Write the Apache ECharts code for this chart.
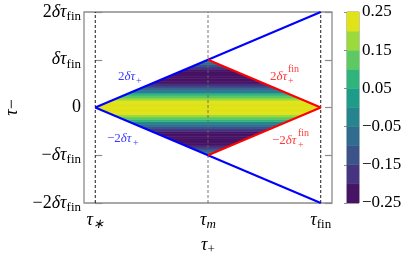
<!DOCTYPE html>
<html><head><meta charset="utf-8">
<script src="https://cdn.jsdelivr.net/npm/echarts@6/dist/echarts.min.js"></script>
<style>html,body{margin:0;padding:0;background:#fff}#c{width:415px;height:254px}</style>
</head><body><div id="c"></div>
<script>
// ---- data ----
const tauStar = 0, tauM = 0.5, tauFin = 1, delta = 1;
const xTicks = [0, 0.5, 1];
const xTickLabels = ['{t|τ}{si|∗}', '{t|τ}{si|m}', '{t|τ}{s|fin}'];
const yTicks = [-2, -1, 0, 1, 2];
const yTickLabels = ['{n|−2}{t|δτ}{s|fin}', '{n|−}{t|δτ}{s|fin}', '{n|0}', '{t|δτ}{s|fin}', '{n|2}{t|δτ}{s|fin}'];
// horizontal bands of the field (tau_- centre of each band, value)
const rowTau = [-0.975,-0.925,-0.875,-0.825,-0.775,-0.725,-0.675,-0.625,-0.575,-0.525,
                -0.475,-0.425,-0.375,-0.325,-0.275,-0.225,-0.175,-0.125,-0.075,-0.025,
                 0.025, 0.075, 0.125, 0.175, 0.225, 0.275, 0.325, 0.375, 0.425, 0.475,
                 0.525, 0.575, 0.625, 0.675, 0.725, 0.775, 0.825, 0.875, 0.925, 0.975];
const rowValue = [-0.02,-0.07,-0.13,-0.17,-0.205,-0.225,-0.24,-0.245,-0.24,-0.22,
                  -0.19,-0.15,-0.09,-0.03, 0.05, 0.12, 0.19, 0.22, 0.23, 0.24,
                   0.24, 0.23, 0.22, 0.19, 0.12, 0.05,-0.03,-0.09,-0.15,-0.19,
                  -0.22,-0.24,-0.245,-0.24,-0.225,-0.205,-0.17,-0.13,-0.07,-0.02];
const rowHalf = 0.025;
const levelEdges = [-0.25,-0.2,-0.15,-0.1,-0.05,0,0.05,0.1,0.15,0.2,0.25];
const levelColors = ['#471365','#463480','#3b528b','#2f6c8e','#25848e','#1e9c89','#2fb47c','#5ec962','#9bd93c','#dfe318'];
const cbTicks = [-0.25,-0.15,-0.05,0.05,0.15,0.25];

function colorFor(v){
  for (let i=0;i<levelColors.length;i++){ if (v < levelEdges[i+1] || i===levelColors.length-1) return levelColors[i]; }
}
const FONT = 'Liberation Serif';
const rich = {
  t:{fontFamily:FONT,fontStyle:'italic',fontSize:18,color:'#000'},
  n:{fontFamily:FONT,fontSize:18,color:'#000'},
  s:{fontFamily:FONT,fontSize:13,color:'#000',padding:[9,0,0,0]},
  si:{fontFamily:FONT,fontStyle:'italic',fontSize:13,color:'#000',padding:[9,0,0,0]}
};
function annRich(col){
  return {
    n:{fontFamily:FONT,fontSize:13,fill:col},
    t:{fontFamily:FONT,fontStyle:'italic',fontSize:13,fill:col}
  };
}
const chart = echarts.init(document.getElementById('c'));
const xl = t => tauStar + Math.abs(t)*(tauM-tauStar)/delta;
const xr = t => tauFin - Math.abs(t)*(tauFin-tauM)/delta;
const bandData = rowTau.map((t,i)=>[t, rowValue[i]]);
const cbData = levelColors.map((c,i)=>[levelEdges[i], levelEdges[i+1]]);
const grey = '#8c8c8c';
const BLUE = '#3a3aff', RED = '#ff3a3a';
chart.setOption({
  animation:false,
  grid:[
    {left:84, top:12, width:248, height:191, show:true, borderColor:grey, borderWidth:1.3, outerBoundsMode:'none', containLabel:false},
    {left:347, top:12, width:12, height:191, show:true, borderColor:grey, borderWidth:1, outerBoundsMode:'none', containLabel:false}
  ],
  xAxis:[
    {gridIndex:0, type:'value', min:-0.05, max:1.05, splitLine:{show:false},
     axisLine:{show:false}, axisTick:{show:false},
     axisLabel:{customValues:xTicks, formatter:(v)=>xTickLabels[xTicks.indexOf(v)], rich:rich, margin:6},
     name:'{t|τ}{s|+}', nameLocation:'middle', nameGap:31, nameTextStyle:{rich:rich}},
    {gridIndex:1, type:'value', min:0, max:1, show:false}
  ],
  yAxis:[
    {gridIndex:0, type:'value', min:-2, max:2, splitLine:{show:false},
     axisLine:{show:false},
     axisTick:{show:true, inside:true, length:7, customValues:yTicks, lineStyle:{color:grey,width:1.2}},
     axisLabel:{customValues:yTicks, formatter:(v)=>yTickLabels[yTicks.indexOf(v)], rich:rich, margin:3},
     name:'{t|τ}{n|−}', nameLocation:'middle', nameGap:60, nameRotate:90, nameTextStyle:{rich:rich}},
    {gridIndex:0, type:'value', min:-2, max:2, position:'right', splitLine:{show:false},
     axisLine:{show:false}, axisLabel:{show:false},
     axisTick:{show:true, inside:true, length:7, customValues:yTicks, lineStyle:{color:grey,width:1.2}}},
    {gridIndex:1, type:'value', min:-0.25, max:0.25, position:'right', splitLine:{show:false},
     axisLine:{show:false},
     axisTick:{show:true, inside:true, length:3, customValues:cbTicks, lineStyle:{color:grey}},
     axisLabel:{customValues:cbTicks, margin:3, fontFamily:FONT, fontSize:17, color:'#000',
       formatter:(v)=> (v<0?'−':'') + Math.abs(v).toFixed(2)}}
  ],
  series:[
    {type:'custom', xAxisIndex:0, yAxisIndex:0, data:bandData, z:1,
     renderItem:(params, api)=>{
       const t = api.value(0), v = api.value(1);
       const lo = t - rowHalf, hi = t + rowHalf;
       const pts = [[xl(lo),lo],[xr(lo),lo],[xr(hi),hi],[xl(hi),hi]].map(p=>api.coord(p));
       const c = colorFor(v);
       return {type:'polygon', shape:{points:pts}, style:{fill:c, stroke:c, lineWidth:0.6}};
     }},
    {type:'line', xAxisIndex:0, yAxisIndex:0, data:[[tauStar,-2],[tauStar,2]], symbol:'none', z:2,
     lineStyle:{color:'#000', width:0.9, type:[3,2]}},
    {type:'line', xAxisIndex:0, yAxisIndex:0, data:[[tauM,-2],[tauM,2]], symbol:'none', z:2,
     lineStyle:{color:'#666', width:0.9, type:[3,2]}},
    {type:'line', xAxisIndex:0, yAxisIndex:0, data:[[tauFin,-2],[tauFin,2]], symbol:'none', z:2,
     lineStyle:{color:'#000', width:0.9, type:[3,2]}},
    {type:'line', xAxisIndex:0, yAxisIndex:0, data:[[tauStar,0],[tauFin,2*delta]], symbol:'none', z:3,
     lineStyle:{color:'#0000ff', width:2}},
    {type:'line', xAxisIndex:0, yAxisIndex:0, data:[[tauStar,0],[tauFin,-2*delta]], symbol:'none', z:3,
     lineStyle:{color:'#0000ff', width:2}},
    {type:'line', xAxisIndex:0, yAxisIndex:0, data:[[tauM,delta],[tauFin,0],[tauM,-delta]], symbol:'none', z:4,
     lineStyle:{color:'#ff0000', width:2}},
    {type:'custom', xAxisIndex:1, yAxisIndex:2, data:cbData,
     renderItem:(params, api)=>{
       const lo = api.value(0), hi = api.value(1);
       const a = api.coord([0,hi]), b = api.coord([1,lo]);
       const c = colorFor((lo+hi)/2);
       return {type:'rect', shape:{x:a[0], y:a[1], width:b[0]-a[0], height:b[1]-a[1]}, style:{fill:c, stroke:c, lineWidth:0.5}};
     }}
  ],
  graphic:[
    {type:'text', x:118, y:70, style:{text:'{n|2}{t|δτ}', fill:BLUE, rich:annRich(BLUE)}},
    {type:'text', x:136, y:76, style:{text:'+', fill:BLUE, font:'10px "Liberation Serif"'}},
    {type:'text', x:107, y:132, style:{text:'{n|−2}{t|δτ}', fill:BLUE, rich:annRich(BLUE)}},
    {type:'text', x:133, y:138, style:{text:'+', fill:BLUE, font:'10px "Liberation Serif"'}},
    {type:'text', x:270, y:70, style:{text:'{n|2}{t|δτ}', fill:RED, rich:annRich(RED)}},
    {type:'text', x:288, y:76, style:{text:'+', fill:RED, font:'10px "Liberation Serif"'}},
    {type:'text', x:288, y:64, style:{text:'fin', fill:RED, font:'10px "Liberation Serif"'}},
    {type:'text', x:272, y:134, style:{text:'{n|−2}{t|δτ}', fill:RED, rich:annRich(RED)}},
    {type:'text', x:298, y:140, style:{text:'+', fill:RED, font:'10px "Liberation Serif"'}},
    {type:'text', x:298, y:128, style:{text:'fin', fill:RED, font:'10px "Liberation Serif"'}}
  ]
});
</script></body></html>
